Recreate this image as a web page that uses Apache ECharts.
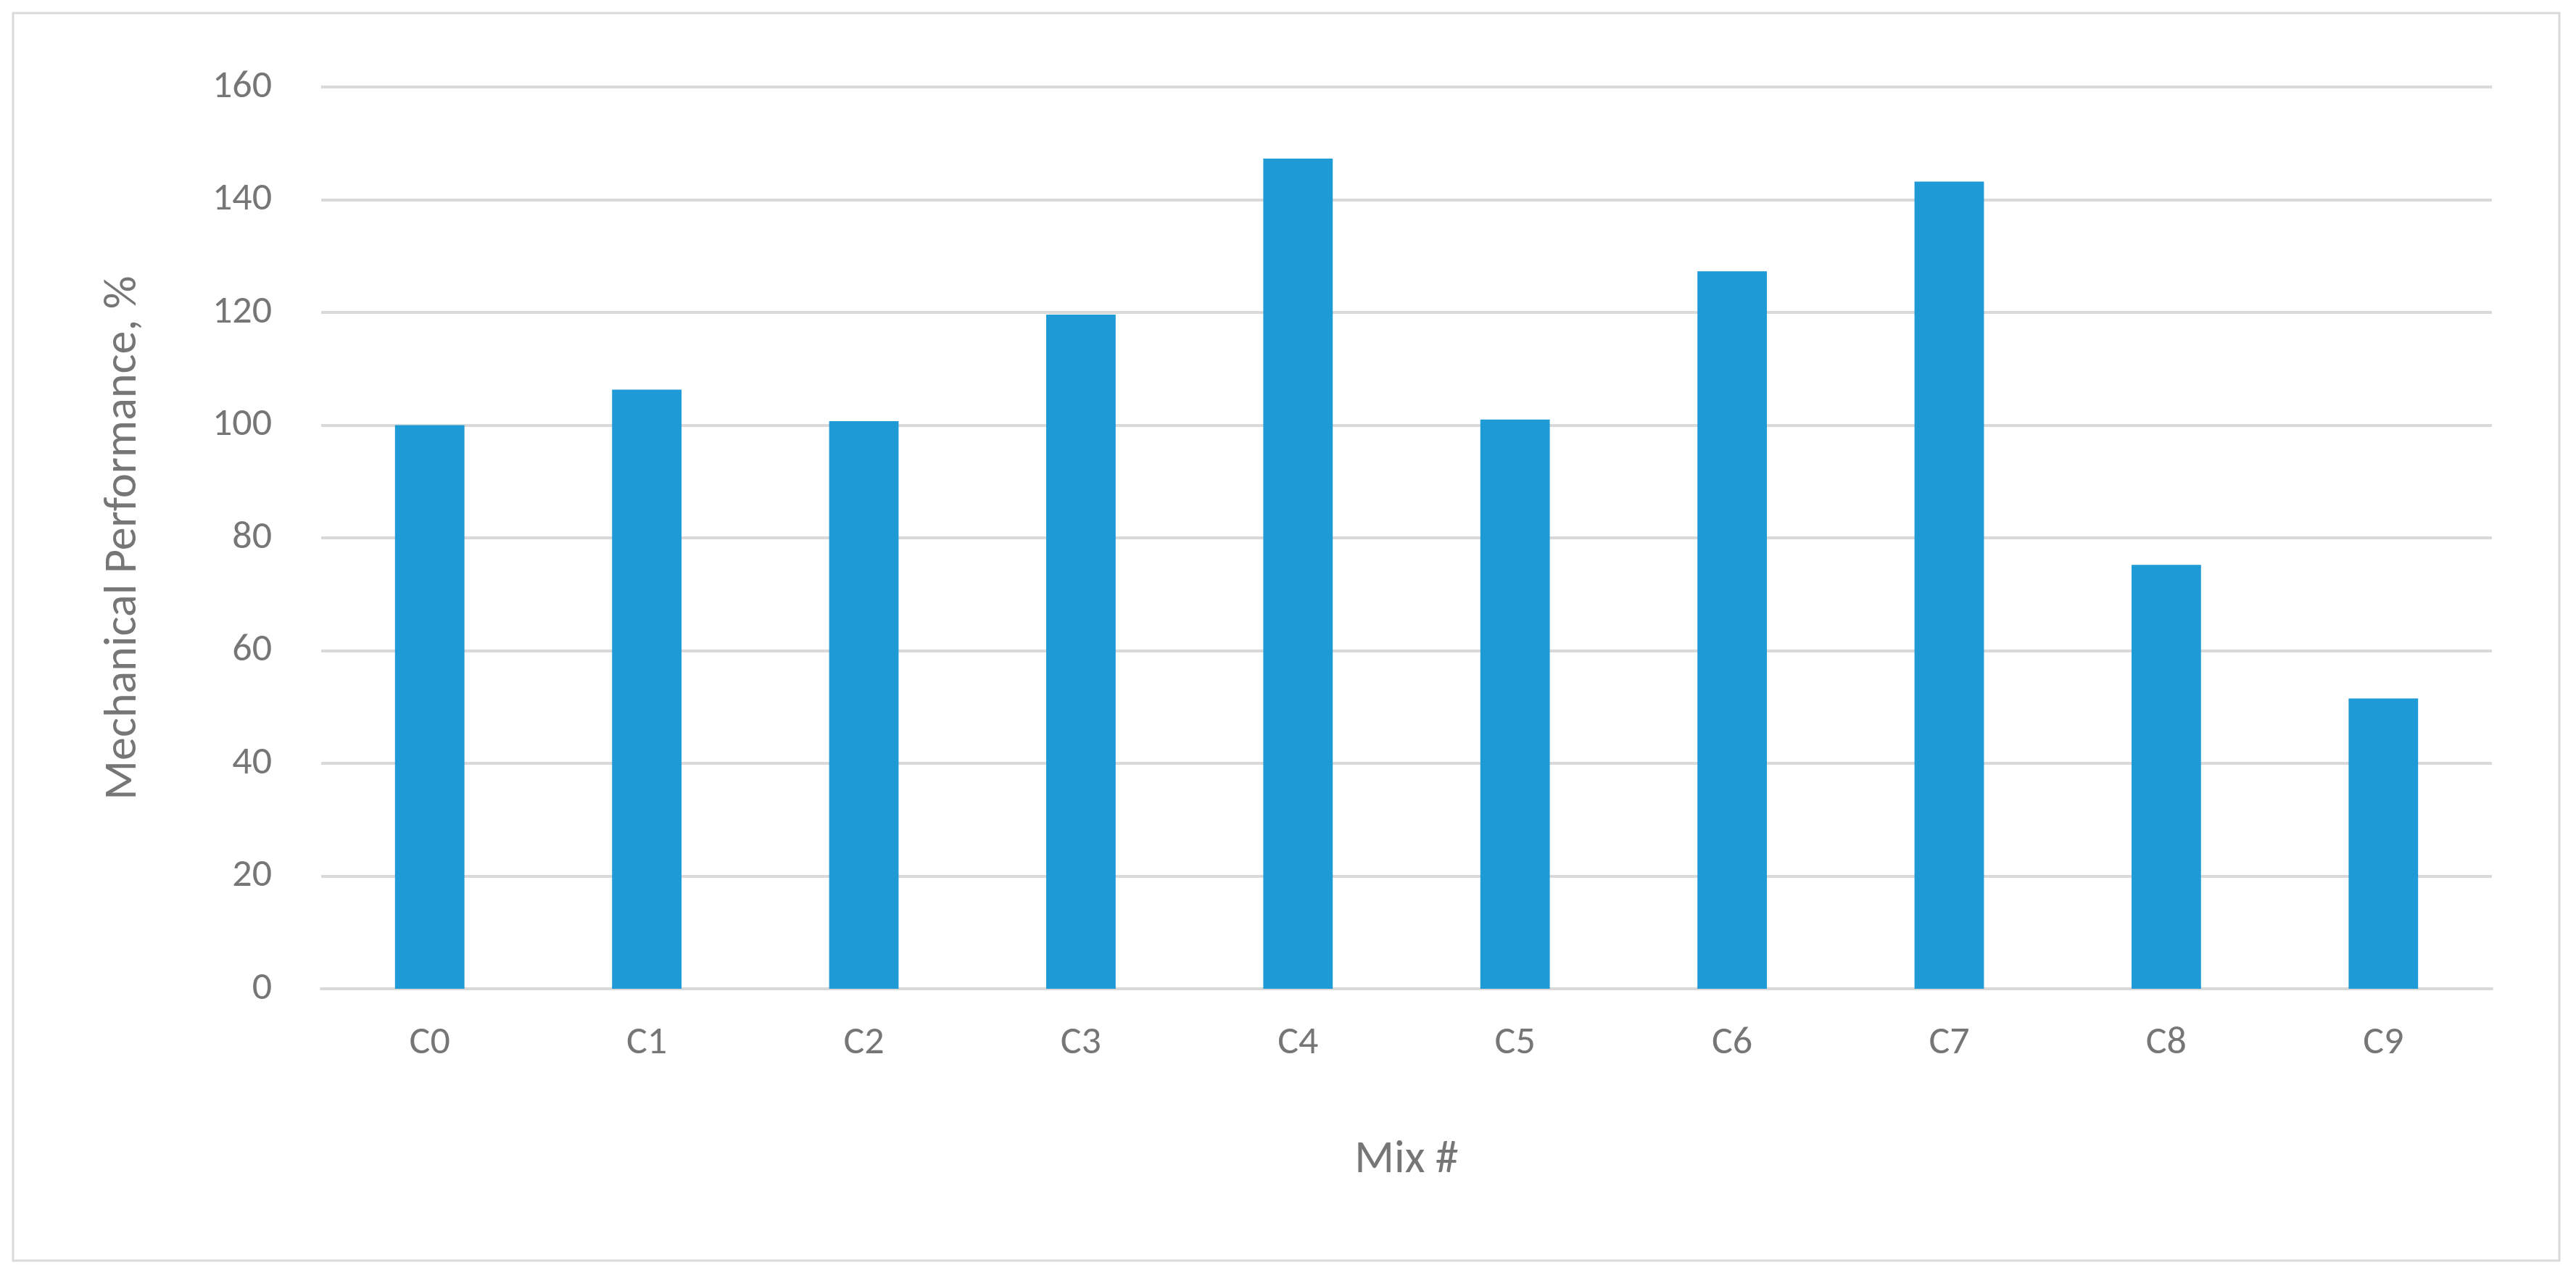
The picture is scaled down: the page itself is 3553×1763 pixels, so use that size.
<!DOCTYPE html>
<html><head><meta charset="utf-8">
<script src="https://cdn.jsdelivr.net/npm/echarts@6/dist/echarts.min.js"></script>
<style>html,body{margin:0;padding:0;background:#fff}#c{width:3553px;height:1763px}</style>
</head><body><div id="c"></div>
<script>
const categories = ['C0','C1','C2','C3','C4','C5','C6','C7','C8','C9'];
const values = [100, 106.3, 100.7, 119.6, 147.3, 101, 127.3, 143.2, 75.2, 51.5];
const chart = echarts.init(document.getElementById('c'));
const font = 'Calibri, Carlito, "Open Sans", sans-serif';
chart.setOption({
  animation:false,
  graphic:[{type:'rect',shape:{x:18,y:18,width:3512,height:1721},style:{fill:'none',stroke:'#d9d9d9',lineWidth:3}}],
  grid:{left:443,right:116,top:120,bottom:399},
  xAxis:{type:'category',data:categories,name:'Mix #',nameLocation:'middle',nameGap:205,
    nameTextStyle:{color:'#767676',fontSize:64,fontFamily:font},
    axisLine:{lineStyle:{color:'#d9d9d9',width:4}},axisTick:{show:false},
    axisLabel:{color:'#767676',fontSize:54,margin:48,fontFamily:font}},
  yAxis:{type:'value',min:0,max:160,interval:20,name:'Mechanical Performance, %',nameLocation:'middle',nameGap:240,
    nameTextStyle:{color:'#767676',fontSize:64,fontFamily:font},
    axisLine:{show:false},axisTick:{show:false},
    splitLine:{lineStyle:{color:'#d9d9d9',width:4}},
    axisLabel:{color:'#767676',fontSize:54,margin:68,fontFamily:font}},
  series:[{type:'bar',data:values,barWidth:'32%',itemStyle:{color:'#1e9bd7'}}]
});
</script></body></html>
